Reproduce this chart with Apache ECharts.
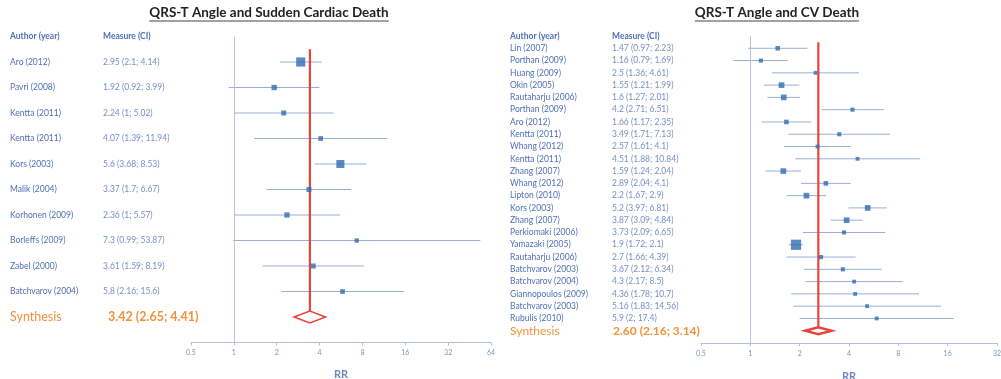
<!DOCTYPE html>
<html>
<head>
<meta charset="utf-8">
<script src="https://cdn.jsdelivr.net/npm/echarts@6/dist/echarts.min.js"></script>
<style>
  html, body { margin: 0; padding: 0; background: #ffffff; }
  #chart { width: 1001px; height: 379px; }
</style>
</head>
<body>
<div id="chart"></div>
<script>
// ---- QRS-T angle and sudden cardiac death ----
const scdAuthors = ['Aro (2012)', 'Pavri (2008)', 'Kentta (2011)', 'Kentta (2011)', 'Kors (2003)',
  'Malik (2004)', 'Korhonen (2009)', 'Borleffs (2009)', 'Zabel (2000)', 'Batchvarov (2004)'];
const scdRR   = [2.95, 1.92, 2.24, 4.07, 5.6, 3.37, 2.36, 7.3, 3.61, 5.8];
const scdLow  = [2.1, 0.92, 1, 1.39, 3.68, 1.7, 1, 0.99, 1.59, 2.16];
const scdHigh = [4.14, 3.99, 5.02, 11.94, 8.53, 6.67, 5.57, 53.87, 8.19, 15.6];
const scdWeight = [28, 6, 5, 4, 20, 5, 6, 3, 5, 4];      // relative study weight (%)
const scdSynthesis = [3.42, 2.65, 4.41];                  // RR, lower CI, upper CI
const scdTicks = ['0.5', '1', '2', '4', '8', '16', '32', '64'];

// ---- QRS-T angle and cardiovascular death ----
const cvAuthors = ['Lin (2007)', 'Porthan (2009)', 'Huang (2009)', 'Okin (2005)', 'Rautaharju (2006)',
  'Porthan (2009)', 'Aro (2012)', 'Kentta (2011)', 'Whang (2012)', 'Kentta (2011)', 'Zhang (2007)',
  'Whang (2012)', 'Lipton (2010)', 'Kors (2003)', 'Zhang (2007)', 'Perkiomaki (2006)', 'Yamazaki (2005)',
  'Rautaharju (2006)', 'Batchvarov (2003)', 'Batchvarov (2004)', 'Giannopoulos (2009)',
  'Batchvarov (2003)', 'Rubulis (2010)'];
const cvRR   = [1.47, 1.16, 2.5, 1.55, 1.6, 4.2, 1.66, 3.49, 2.57, 4.51, 1.59, 2.89, 2.2, 5.2, 3.87,
  3.73, 1.9, 2.7, 3.67, 4.3, 4.36, 5.16, 5.9];
const cvLow  = [0.97, 0.79, 1.36, 1.21, 1.27, 2.71, 1.17, 1.71, 1.61, 1.88, 1.24, 2.04, 1.67, 3.97, 3.09,
  2.09, 1.72, 1.66, 2.12, 2.17, 1.78, 1.83, 2];
const cvHigh = [2.23, 1.69, 4.61, 1.99, 2.01, 6.51, 2.35, 7.13, 4.1, 10.84, 2.04, 4.1, 2.9, 6.81, 4.84,
  6.65, 2.1, 4.39, 6.34, 8.5, 10.7, 14.56, 17.4];
const cvWeight = [3, 2, 1.5, 6, 6, 2, 3, 2, 1.5, 1.5, 6, 3, 6, 6, 6, 2, 30, 2, 2, 1.5, 1.5, 1.5, 1.5];
const cvSynthesis = [2.60, 2.16, 3.14];
const cvTicks = ['0.5', '1', '2', '4', '8', '16', '32'];

// ---- styling ----
const FONT = 'Lato, "Open Sans", sans-serif';
const BLUE_TEXT = '#4f70b5';
const BLUE_SOFT = '#7890c4';
const MARK = '#2f6db3';
const CI = '#9aaed3';
const RED = '#e4463a';
const ORANGE = '#f0923a';
const AXIS = '#b3c0da';

const log2 = v => Math.log(v) / Math.LN2;
const measureText = (rr, lo, hi) => `${rr} (${lo}; ${hi})`;

function panel(cfg) {
  const { gi, authors, rr, low, high, weight, synth, ticks, rows, synthHalf, synthWidth, sizeK } = cfg;
  const n = authors.length;
  const xAxis = {
    gridIndex: gi, type: 'value', min: -1, max: ticks.length - 2, interval: 1,
    splitLine: { show: false },
    axisLine: { onZero: false, lineStyle: { color: AXIS, width: 1 } },
    axisTick: { show: true, length: 3, lineStyle: { color: AXIS } },
    axisLabel: {
      fontFamily: FONT, fontSize: 7, color: '#7f93bf', margin: 7,
      formatter: v => ticks[Math.round(v + 1)] || ''
    },
    name: 'RR', nameLocation: 'middle', nameGap: cfg.nameGap,
    nameTextStyle: { fontFamily: FONT, fontSize: 11, fontWeight: 'bold', color: '#6d89c4' }
  };
  const yBase = {
    gridIndex: gi, type: 'value', position: 'left', offset: 0,
    min: -1, max: rows, interval: 1, inverse: true,
    axisLine: { show: false, onZero: false }, axisTick: { show: false }, splitLine: { show: false }
  };
  const rich = {
    h: { fontFamily: FONT, fontSize: cfg.fs, color: BLUE_TEXT, fontWeight: 'bold' },
    a: { fontFamily: FONT, fontSize: cfg.fs, color: BLUE_TEXT },
    m: { fontFamily: FONT, fontSize: cfg.fs, color: BLUE_SOFT },
    s: { fontFamily: FONT, fontSize: cfg.synFs, color: ORANGE },
    t: { fontFamily: FONT, fontSize: cfg.synFs, color: ORANGE, fontWeight: 'bold', padding: [0, 0, 0, cfg.synIndent] }
  };
  const yAuthor = Object.assign({}, yBase, {
    axisLabel: {
      align: 'left', margin: cfg.gridLeft - cfg.authorX, rich,
      formatter: v => {
        const i = Math.round(v);
        if (i === -1) return '{h|Author (year)}';
        if (i >= 0 && i < n) return '{a|' + authors[i] + '}';
        if (i === n) return '{s|Synthesis}';
        return '';
      }
    }
  });
  const yMeasure = Object.assign({}, yBase, {
    axisLabel: {
      align: 'left', margin: cfg.gridLeft - cfg.measureX, rich,
      formatter: v => {
        const i = Math.round(v);
        if (i === -1) return '{h|Measure (CI)}';
        if (i >= 0 && i < n) return '{m|' + measureText(rr[i], low[i], high[i]) + '}';
        if (i === n) return '{t|' + measureText(synth[0].toFixed(2), synth[1].toFixed(2), synth[2].toFixed(2)) + '}';
        return '';
      }
    }
  });
  const yi = gi * 2;
  const series = [
    {
      // confidence intervals
      type: 'custom', xAxisIndex: gi, yAxisIndex: yi, z: 2,
      data: low.map((l, i) => [log2(l), log2(high[i]), i]),
      encode: { x: [0, 1], y: 2 },
      renderItem: (p, api) => {
        const a = api.coord([api.value(0), api.value(2)]);
        const b = api.coord([api.value(1), api.value(2)]);
        return { type: 'line', shape: { x1: a[0], y1: a[1], x2: b[0], y2: b[1] },
          style: { stroke: CI, lineWidth: 1 } };
      }
    },
    {
      // pooled estimate: vertical reference line and diamond
      type: 'custom', xAxisIndex: gi, yAxisIndex: yi, z: 3,
      data: [[log2(synth[0]), log2(synth[1]), log2(synth[2]), n]],
      encode: { x: [0, 1, 2], y: 3 },
      renderItem: (p, api) => {
        const c = api.coord([api.value(0), api.value(3)]);
        const l = api.coord([api.value(1), api.value(3)]);
        const r = api.coord([api.value(2), api.value(3)]);
        const top = api.coord([api.value(0), -0.5]);
        return {
          type: 'group', children: [
            { type: 'line', shape: { x1: c[0], y1: top[1], x2: c[0], y2: c[1] - synthHalf },
              style: { stroke: RED, lineWidth: 2.2 } },
            { type: 'polygon', shape: { points: [[l[0], c[1]], [c[0], c[1] - synthHalf], [r[0], c[1]], [c[0], c[1] + synthHalf]] },
              style: { fill: '#ffffff', stroke: RED, lineWidth: synthWidth } }
          ]
        };
      }
    },
    {
      // study estimates, marker size follows study weight; line of no effect at RR = 1
      type: 'scatter', xAxisIndex: gi, yAxisIndex: yi, z: 4,
      symbol: 'rect',
      data: rr.map((v, i) => ({ value: [log2(v), i], symbolSize: 2 + Math.sqrt(weight[i]) * sizeK })),
      itemStyle: { color: MARK },
      markLine: {
        symbol: 'none', silent: true, animation: false, label: { show: false },
        lineStyle: { color: '#b7c3dc', width: 1, type: 'solid' },
        data: [{ xAxis: log2(1) }]
      }
    }
  ];
  return { xAxis, yAxes: [yAuthor, yMeasure], series };
}

const left = panel({
  gi: 0, authors: scdAuthors, rr: scdRR, low: scdLow, high: scdHigh, weight: scdWeight,
  synth: scdSynthesis, ticks: scdTicks, rows: 11, synthHalf: 6, synthWidth: 1.6, sizeK: 1.35,
  gridLeft: 191, authorX: 10, measureX: 103, fs: 8.5, synFs: 12.5, synIndent: 5, nameGap: 26
});
const right = panel({
  gi: 1, authors: cvAuthors, rr: cvRR, low: cvLow, high: cvHigh, weight: cvWeight,
  synth: cvSynthesis, ticks: cvTicks, rows: 24, synthHalf: 3.5, synthWidth: 2.4, sizeK: 1.5,
  gridLeft: 701, authorX: 510, measureX: 612, fs: 8.5, synFs: 12, synIndent: 1, nameGap: 28
});

// underlined panel titles
function textWidth(str, font) {
  const ctx = document.createElement('canvas').getContext('2d');
  ctx.font = font;
  return ctx.measureText(str).width;
}
const TITLE_FONT = 'bold 13.5px Lato';
function titleGraphic(str, cx) {
  const w = textWidth(str, TITLE_FONT);
  return [
    { type: 'text', x: cx, y: 13, style: { text: str, font: TITLE_FONT, fill: '#222222', align: 'center', verticalAlign: 'middle' } },
    { type: 'line', shape: { x1: cx - w / 2, y1: 21, x2: cx + w / 2, y2: 21 }, style: { stroke: '#444444', lineWidth: 1 } }
  ];
}

const chart = echarts.init(document.getElementById('chart'), null, { renderer: 'canvas' });
chart.setOption({
  animation: false,
  backgroundColor: '#ffffff',
  grid: [
    { left: 191, top: 36.5, width: 300, height: 306, outerBoundsMode: 'none', containLabel: false },
    { left: 701, top: 36, width: 296, height: 307, outerBoundsMode: 'none', containLabel: false }
  ],
  xAxis: [left.xAxis, right.xAxis],
  yAxis: [...left.yAxes, ...right.yAxes],
  series: [...left.series, ...right.series],
  graphic: [
    ...titleGraphic('QRS-T Angle and Sudden Cardiac Death', 269),
    ...titleGraphic('QRS-T Angle and CV Death', 777)
  ]
});
</script>
</body>
</html>
